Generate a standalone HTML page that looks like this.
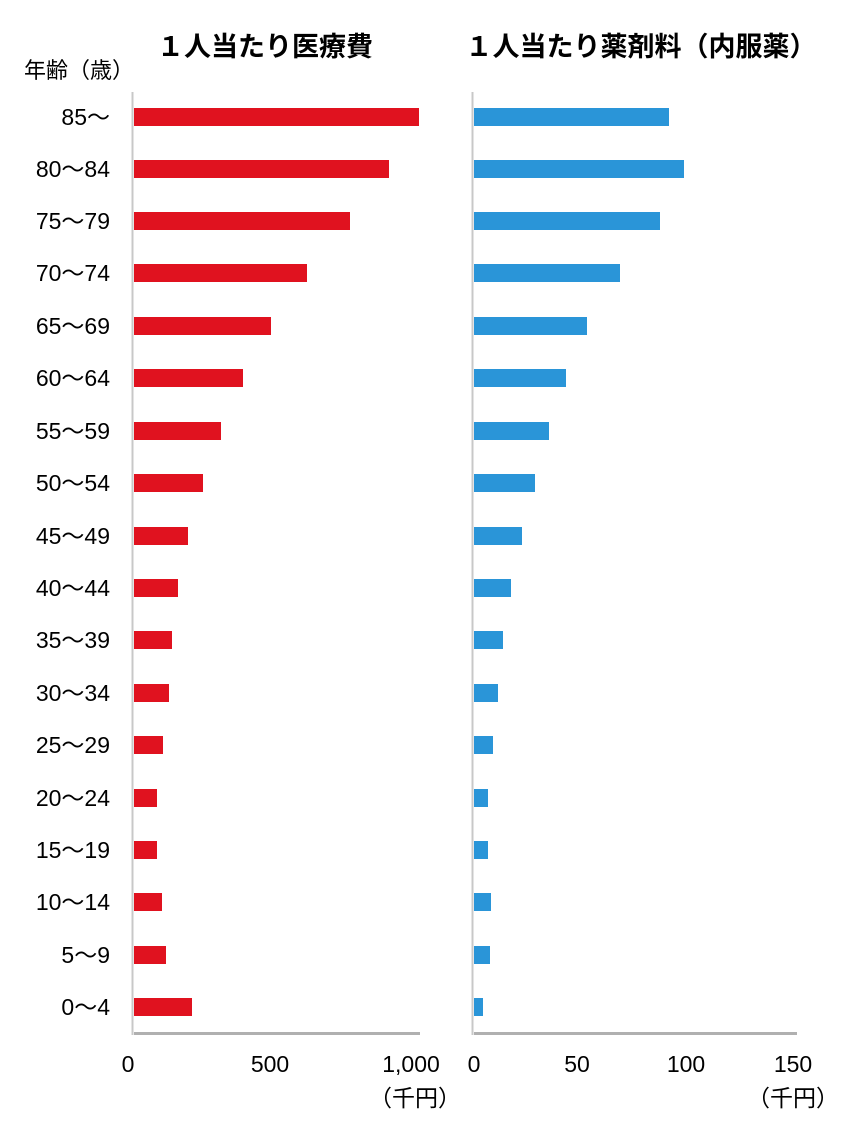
<!DOCTYPE html><html><head><meta charset="utf-8"><style>
body{margin:0;width:860px;height:1127px;background:#fff;overflow:hidden;font-family:"Liberation Sans","Noto Sans CJK JP",sans-serif;}
</style></head><body>
<svg width="860" height="1127" xmlns="http://www.w3.org/2000/svg" font-family="Liberation Sans, Noto Sans CJK JP, sans-serif">
<text x="265" y="56" font-size="27" font-weight="bold" text-anchor="middle">１人当たり医療費</text>
<text x="641" y="56" font-size="27" font-weight="bold" text-anchor="middle">１人当たり薬剤料（内服薬）</text>
<text x="24" y="78" font-size="22">年齢（歳）</text>
<line x1="132.5" y1="92" x2="132.5" y2="1035" stroke="#c8c8c8" stroke-width="2"/>
<line x1="472.5" y1="92" x2="472.5" y2="1035" stroke="#c8c8c8" stroke-width="2"/>
<rect x="134" y="1032" width="286" height="3" fill="#b0b0b0"/>
<rect x="474" y="1032" width="323" height="3" fill="#b0b0b0"/>
<g font-size="23" text-anchor="middle">
<text x="128" y="1072">0</text><text x="270" y="1072">500</text><text x="411" y="1072">1,000</text>
<text x="474" y="1072">0</text><text x="577" y="1072">50</text><text x="686" y="1072">100</text><text x="793" y="1072">150</text>
<text x="415" y="1106">（千円）</text><text x="793" y="1106">（千円）</text>
</g>
<g fill="#e0121f">
<rect x="134" y="108" width="285" height="18"/><rect x="134" y="160" width="255" height="18"/><rect x="134" y="212" width="216" height="18"/><rect x="134" y="264" width="173" height="18"/><rect x="134" y="317" width="137" height="18"/><rect x="134" y="369" width="109" height="18"/><rect x="134" y="422" width="87" height="18"/><rect x="134" y="474" width="69" height="18"/><rect x="134" y="527" width="54" height="18"/><rect x="134" y="579" width="44" height="18"/><rect x="134" y="631" width="38" height="18"/><rect x="134" y="684" width="35" height="18"/><rect x="134" y="736" width="29" height="18"/><rect x="134" y="789" width="23" height="18"/><rect x="134" y="841" width="23" height="18"/><rect x="134" y="893" width="28" height="18"/><rect x="134" y="946" width="32" height="18"/><rect x="134" y="998" width="58" height="18"/>
</g>
<g fill="#2a95d8">
<rect x="474" y="108" width="195" height="18"/><rect x="474" y="160" width="210" height="18"/><rect x="474" y="212" width="186" height="18"/><rect x="474" y="264" width="146" height="18"/><rect x="474" y="317" width="113" height="18"/><rect x="474" y="369" width="92" height="18"/><rect x="474" y="422" width="75" height="18"/><rect x="474" y="474" width="61" height="18"/><rect x="474" y="527" width="48" height="18"/><rect x="474" y="579" width="37" height="18"/><rect x="474" y="631" width="29" height="18"/><rect x="474" y="684" width="24" height="18"/><rect x="474" y="736" width="19" height="18"/><rect x="474" y="789" width="14" height="18"/><rect x="474" y="841" width="14" height="18"/><rect x="474" y="893" width="17" height="18"/><rect x="474" y="946" width="16" height="18"/><rect x="474" y="998" width="9" height="18"/>
</g>
<g font-size="23" text-anchor="end">
<text x="110" y="125">85～</text><text x="110" y="177">80～84</text><text x="110" y="229">75～79</text><text x="110" y="281">70～74</text><text x="110" y="334">65～69</text><text x="110" y="386">60～64</text><text x="110" y="439">55～59</text><text x="110" y="491">50～54</text><text x="110" y="544">45～49</text><text x="110" y="596">40～44</text><text x="110" y="648">35～39</text><text x="110" y="701">30～34</text><text x="110" y="753">25～29</text><text x="110" y="806">20～24</text><text x="110" y="858">15～19</text><text x="110" y="910">10～14</text><text x="110" y="963">5～9</text><text x="110" y="1015">0～4</text>
</g>
</svg>
</body></html>
